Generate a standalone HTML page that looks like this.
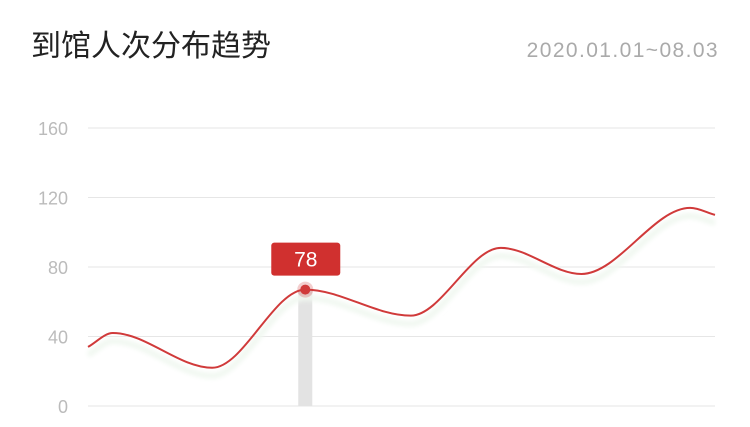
<!DOCTYPE html>
<html><head><meta charset="utf-8"><style>
body{margin:0;background:#fff;width:750px;height:422px;overflow:hidden;font-family:"Liberation Sans","Noto Sans CJK SC",sans-serif}
</style></head><body>
<svg width="750" height="422">
<defs><filter id="blur"><feGaussianBlur stdDeviation="2"/></filter></defs>
<text x="31" y="56" font-size="30" fill="#222" font-family="Liberation Sans, Noto Sans CJK SC, sans-serif">到馆人次分布趋势</text>
<text x="719" y="57" font-size="21" fill="#aaa" text-anchor="end" letter-spacing="1.4">2020.01.01~08.03</text>
<g id="grid"></g><g id="plot"></g>
</svg>
<script>
const days=[0,4,20,35,52,66.5,79.5,97,101];
const values=[34,42,22,67,52,91,76,114,110];
const yTicks=[0,40,80,120,160];
const highlightIndex=3;
const tooltipValue=78;
const X0=88,X1=715,Y0=406,Y1=128;
const xs=d=>X0+(d-days[0])/(days[days.length-1]-days[0])*(X1-X0);
const ys=v=>Y0-v/160*(Y0-Y1);
const NS="http://www.w3.org/2000/svg";
function mk(t,a,p){const e=document.createElementNS(NS,t);for(const k in a)e.setAttribute(k,a[k]);p.appendChild(e);return e;}
const grid=document.getElementById('grid'),plot=document.getElementById('plot');
yTicks.forEach(t=>{
 const l=mk('line',{x1:X0,x2:X1,y1:ys(t),y2:ys(t),stroke:'#e6e6e6','stroke-width':1},grid);
 
 
 const tx=mk('text',{x:68,y:ys(t)+7,'font-size':18,fill:'#bbb','text-anchor':'end'},grid);
 tx.textContent=t;
 
 
});
const P=days.map((d,i)=>[xs(d),ys(values[i])]);
const n=P.length,dl=[],m=[];
for(let i=0;i<n-1;i++)dl.push((P[i+1][1]-P[i][1])/(P[i+1][0]-P[i][0]));
for(let i=0;i<n;i++){
 if(i==0)m.push(dl[0]);else if(i==n-1)m.push(dl[n-2]);
 else m.push(dl[i-1]*dl[i]<=0?0:(dl[i-1]+dl[i])/2);
}
let d=`M${P[0][0]},${P[0][1]}`;
for(let i=0;i<n-1;i++){const h=(P[i+1][0]-P[i][0])/3;
 d+=`C${P[i][0]+h},${P[i][1]+m[i]*h} ${P[i+1][0]-h},${P[i+1][1]-m[i+1]*h} ${P[i+1][0]},${P[i+1][1]}`;}
const hx=xs(days[highlightIndex]),hy=ys(values[highlightIndex]);
const bar=mk('rect',{x:hx-7,y:hy,width:14,height:Y0-hy,fill:'#e3e3e3'},plot);


const sh=mk('path',{d:d,fill:'none',stroke:'#f1f8f1','stroke-width':6,transform:'translate(0,8)',filter:'url(#blur)'},plot);


const ln=mk('path',{d:d,fill:'none',stroke:'#d03a3a','stroke-width':2},plot);


const halo=mk('circle',{cx:hx,cy:hy,r:8,fill:'rgba(208,58,58,0.25)'},plot);


const pt=mk('circle',{cx:hx,cy:hy,r:5,fill:'#d03a3a'},plot);


const tb=mk('rect',{x:hx-34,y:hy-47,width:69,height:33,rx:3,fill:'#d0302f'},plot);


const tt=mk('text',{x:hx+0.5,y:hy-23,'font-size':21,fill:'#fff','text-anchor':'middle'},plot);
tt.textContent=tooltipValue;


</script>
</body></html>
